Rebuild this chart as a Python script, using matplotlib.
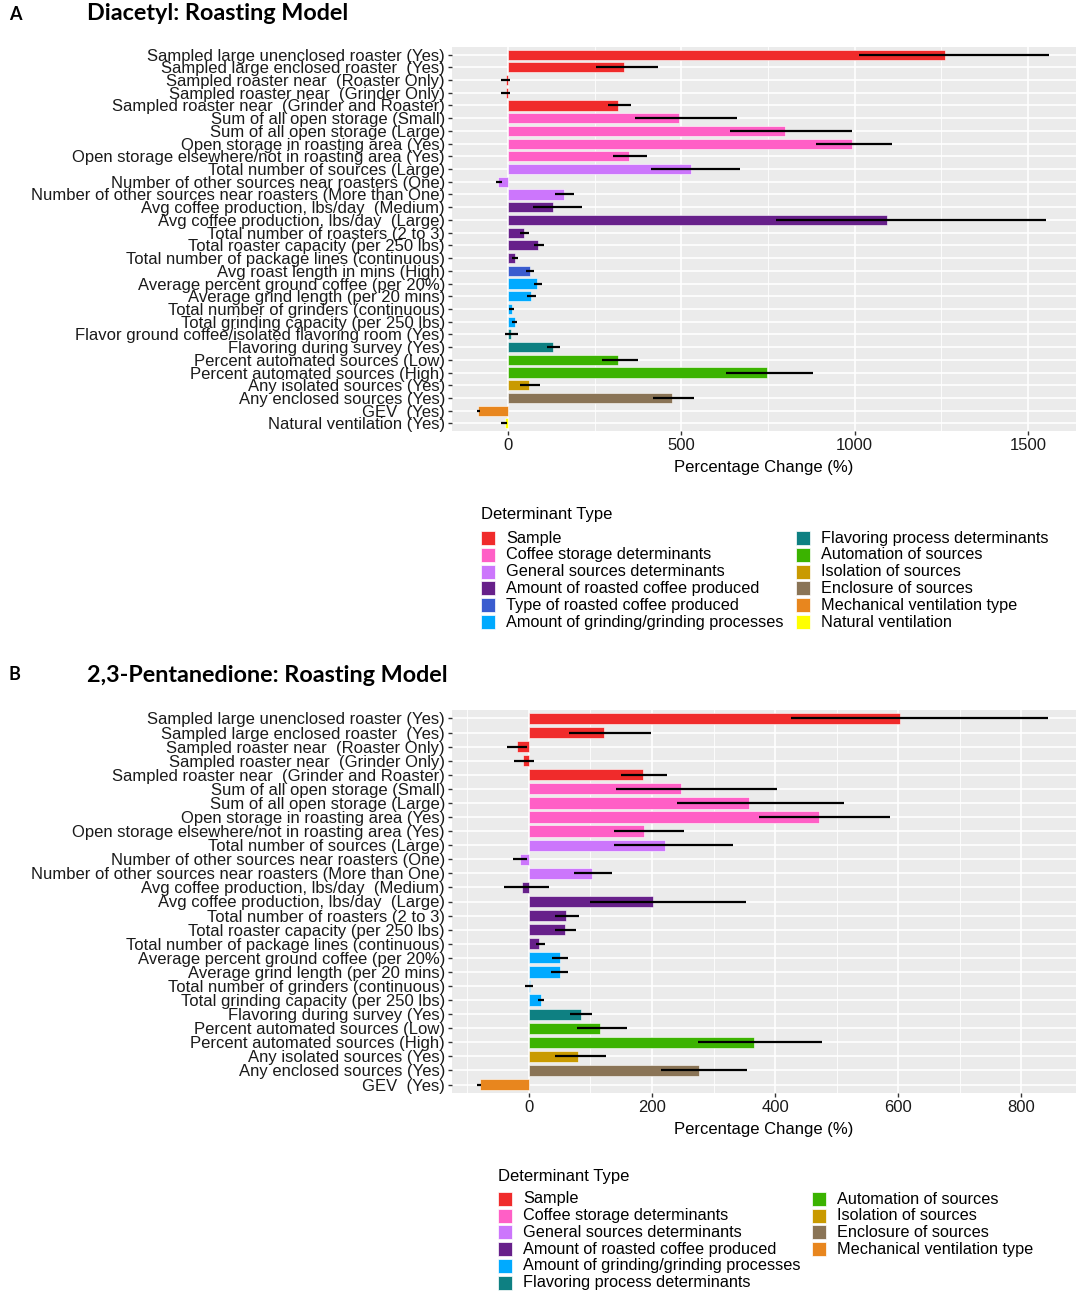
import matplotlib
matplotlib.use("Agg")
import matplotlib.pyplot as plt
from matplotlib.patches import Rectangle

plt.rcParams["font.family"] = ["Liberation Sans", "DejaVu Sans"]

# ---- Panel A: Diacetyl ----
labels_a = [
    "Sampled large unenclosed roaster (Yes)",
    "Sampled large enclosed roaster  (Yes)",
    "Sampled roaster near  (Roaster Only)",
    "Sampled roaster near  (Grinder Only)",
    "Sampled roaster near  (Grinder and Roaster)",
    "Sum of all open storage (Small)",
    "Sum of all open storage (Large)",
    "Open storage in roasting area (Yes)",
    "Open storage elsewhere/not in roasting area (Yes)",
    "Total number of sources (Large)",
    "Number of other sources near roasters (One)",
    "Number of other sources near roasters (More than One)",
    "Avg coffee production, lbs/day  (Medium)",
    "Avg coffee production, lbs/day  (Large)",
    "Total number of roasters (2 to 3)",
    "Total roaster capacity (per 250 lbs)",
    "Total number of package lines (continuous)",
    "Avg roast length in mins (High)",
    "Average percent ground coffee (per 20%)",
    "Average grind length (per 20 mins)",
    "Total number of grinders (continuous)",
    "Total grinding capacity (per 250 lbs)",
    "Flavor ground coffee/isolated flavoring room (Yes)",
    "Flavoring during survey (Yes)",
    "Percent automated sources (Low)",
    "Percent automated sources (High)",
    "Any isolated sources (Yes)",
    "Any enclosed sources (Yes)",
    "GEV  (Yes)",
    "Natural ventilation (Yes)",
]
values_a = [1259, 335, -5, -5, 319, 494, 798, 992, 348, 527, -27, 161, 131, 1093,
            48, 87, 22, 64, 85, 68, 11, 20, 8, 129, 319, 747, 62, 473, -85, -8]
lower_a = [1012, 253, -20, -20, 288, 366, 641, 888, 302, 412, -35, 135, 72, 773,
           35, 74, 12, 53, 74, 56, 4, 12, -9, 114, 271, 629, 36, 418, -88, -20]
upper_a = [1559, 433, 6, 6, 355, 660, 991, 1107, 400, 668, -18, 191, 213, 1552,
           61, 104, 29, 75, 98, 81, 18, 27, 28, 149, 374, 880, 92, 536, -80, -2]
groups_a = ["Sample"] * 5 + ["Coffee storage determinants"] * 4 + \
    ["General sources determinants"] * 3 + ["Amount of roasted coffee produced"] * 5 + \
    ["Type of roasted coffee produced"] + ["Amount of grinding/grinding processes"] * 4 + \
    ["Flavoring process determinants"] * 2 + ["Automation of sources"] * 2 + \
    ["Isolation of sources", "Enclosure of sources", "Mechanical ventilation type",
     "Natural ventilation"]

# ---- Panel B: 2,3-Pentanedione ----
labels_b = [
    "Sampled large unenclosed roaster (Yes)",
    "Sampled large enclosed roaster  (Yes)",
    "Sampled roaster near  (Roaster Only)",
    "Sampled roaster near  (Grinder Only)",
    "Sampled roaster near  (Grinder and Roaster)",
    "Sum of all open storage (Small)",
    "Sum of all open storage (Large)",
    "Open storage in roasting area (Yes)",
    "Open storage elsewhere/not in roasting area (Yes)",
    "Total number of sources (Large)",
    "Number of other sources near roasters (One)",
    "Number of other sources near roasters (More than One)",
    "Avg coffee production, lbs/day  (Medium)",
    "Avg coffee production, lbs/day  (Large)",
    "Total number of roasters (2 to 3)",
    "Total roaster capacity (per 250 lbs)",
    "Total number of package lines (continuous)",
    "Average percent ground coffee (per 20%)",
    "Average grind length (per 20 mins)",
    "Total number of grinders (continuous)",
    "Total grinding capacity (per 250 lbs)",
    "Flavoring during survey (Yes)",
    "Percent automated sources (Low)",
    "Percent automated sources (High)",
    "Any isolated sources (Yes)",
    "Any enclosed sources (Yes)",
    "GEV  (Yes)",
]
values_b = [603, 122, -20, -9, 185, 247, 357, 472, 187, 221, -15, 103, -11, 201,
            60, 59, 17, 50, 50, 1, 19, 84, 115, 366, 79, 277, -80]
lower_b = [426, 65, -36, -24, 150, 142, 240, 374, 138, 138, -26, 74, -41, 99,
           42, 42, 11, 37, 36, -6, 15, 67, 78, 275, 42, 215, -84]
upper_b = [843, 198, -3, 8, 224, 403, 512, 587, 252, 332, -3, 135, 33, 353,
           81, 76, 26, 64, 64, 6, 25, 103, 160, 476, 126, 354, -78]
groups_b = ["Sample"] * 5 + ["Coffee storage determinants"] * 4 + \
    ["General sources determinants"] * 3 + ["Amount of roasted coffee produced"] * 5 + \
    ["Amount of grinding/grinding processes"] * 4 + \
    ["Flavoring process determinants"] + ["Automation of sources"] * 2 + \
    ["Isolation of sources", "Enclosure of sources", "Mechanical ventilation type"]

colors = {
    "Sample": "#F02B2B",
    "Coffee storage determinants": "#FF5FC6",
    "General sources determinants": "#CC76FC",
    "Amount of roasted coffee produced": "#67208A",
    "Type of roasted coffee produced": "#3A5CCF",
    "Amount of grinding/grinding processes": "#00AAFF",
    "Flavoring process determinants": "#0E8082",
    "Automation of sources": "#3BB300",
    "Isolation of sources": "#C99A00",
    "Enclosure of sources": "#8A7456",
    "Mechanical ventilation type": "#E8861E",
    "Natural ventilation": "#FFFF00",
}

legend_a = list(colors.keys())
legend_b = [g for g in legend_a if g not in ("Type of roasted coffee produced",
                                             "Natural ventilation")]

W, H = 1084, 1308
fig = plt.figure(figsize=(W / 100, H / 100), dpi=100)


def px_axes(left, top, right, bottom):
    return fig.add_axes([left / W, 1 - bottom / H, (right - left) / W, (bottom - top) / H])


def draw_panel(ax, labels, values, lower, upper, groups, xlim, major, minor):
    n = len(labels)
    ypos = list(range(n))
    ax.set_facecolor("#EBEBEB")
    for v in minor:
        ax.axvline(v, color="white", lw=0.6, zorder=0)
    for v in major:
        ax.axvline(v, color="white", lw=1.2, zorder=0)
    for y in ypos:
        ax.axhline(y, color="white", lw=1.2, zorder=0)
    ax.barh(ypos, values, height=0.8, color=[colors[g] for g in groups],
            edgecolor="white", linewidth=0.4, zorder=2)
    ax.hlines(ypos, lower, upper, color="black", lw=1.6, zorder=3)
    ax.set_xlim(*xlim)
    ax.set_ylim(n - 0.4, -0.6)
    ax.set_yticks(ypos)
    ax.set_yticklabels(labels, fontsize=12, color="#1A1A1A")
    ax.set_xticks(major)
    ax.set_xticklabels([f"{v:g}" for v in major], fontsize=12, color="#1A1A1A")
    ax.tick_params(axis="both", length=3, width=1, color="#333333", pad=2)
    ax.set_xlabel("Percentage Change (%)", fontsize=12, labelpad=5)
    for s in ax.spines.values():
        s.set_visible(False)


def draw_legend(x_key, x_key2, y_title, y0, step, names, n_first):
    fig.text(x_key / W, 1 - y_title / H, "Determinant Type", fontsize=12,
             va="center", ha="left")
    for i, name in enumerate(names):
        col = 0 if i < n_first else 1
        row = i if i < n_first else i - n_first
        kx = x_key if col == 0 else x_key2
        y = y0 + row * step
        fig.patches.append(Rectangle(((kx) / W, 1 - (y + 7) / H), 14 / W, 14 / H,
                                     transform=fig.transFigure, facecolor=colors[name],
                                     edgecolor="white", lw=0.5))
        fig.text((kx + 25) / W, 1 - y / H, name, fontsize=11.7, va="center", ha="left")


ax_a = px_axes(452, 47, 1076, 431)
draw_panel(ax_a, labels_a, values_a, lower_a, upper_a, groups_a,
           (-161, 1638), [0, 500, 1000, 1500], [-250, 250, 750, 1250])
draw_legend(481, 796, 514, 538, 16.8, legend_a, 6)

ax_b = px_axes(452, 710, 1076, 1093)
draw_panel(ax_b, labels_b, values_b, lower_b, upper_b, groups_b,
           (-125, 889), [0, 200, 400, 600, 800], [-100, 100, 300, 500, 700])
draw_legend(498, 812, 1176, 1199, 16.7, legend_b, 6)

title_font = ["Lato", "DejaVu Sans"]
fig.text(9 / W, 1 - 15 / H, "A", fontsize=13, fontweight="bold", va="center",
         family=title_font)
fig.text(87 / W, 1 - 14 / H, "Diacetyl: Roasting Model", fontsize=16.8,
         fontweight="bold", va="center", family=title_font)
fig.text(9 / W, 1 - 675 / H, "B", fontsize=13, fontweight="bold", va="center",
         family=title_font)
fig.text(87 / W, 1 - 675 / H, "2,3-Pentanedione: Roasting Model", fontsize=16.8,
         fontweight="bold", va="center", family=title_font)

fig.savefig("out.png", dpi=100, facecolor="white")
